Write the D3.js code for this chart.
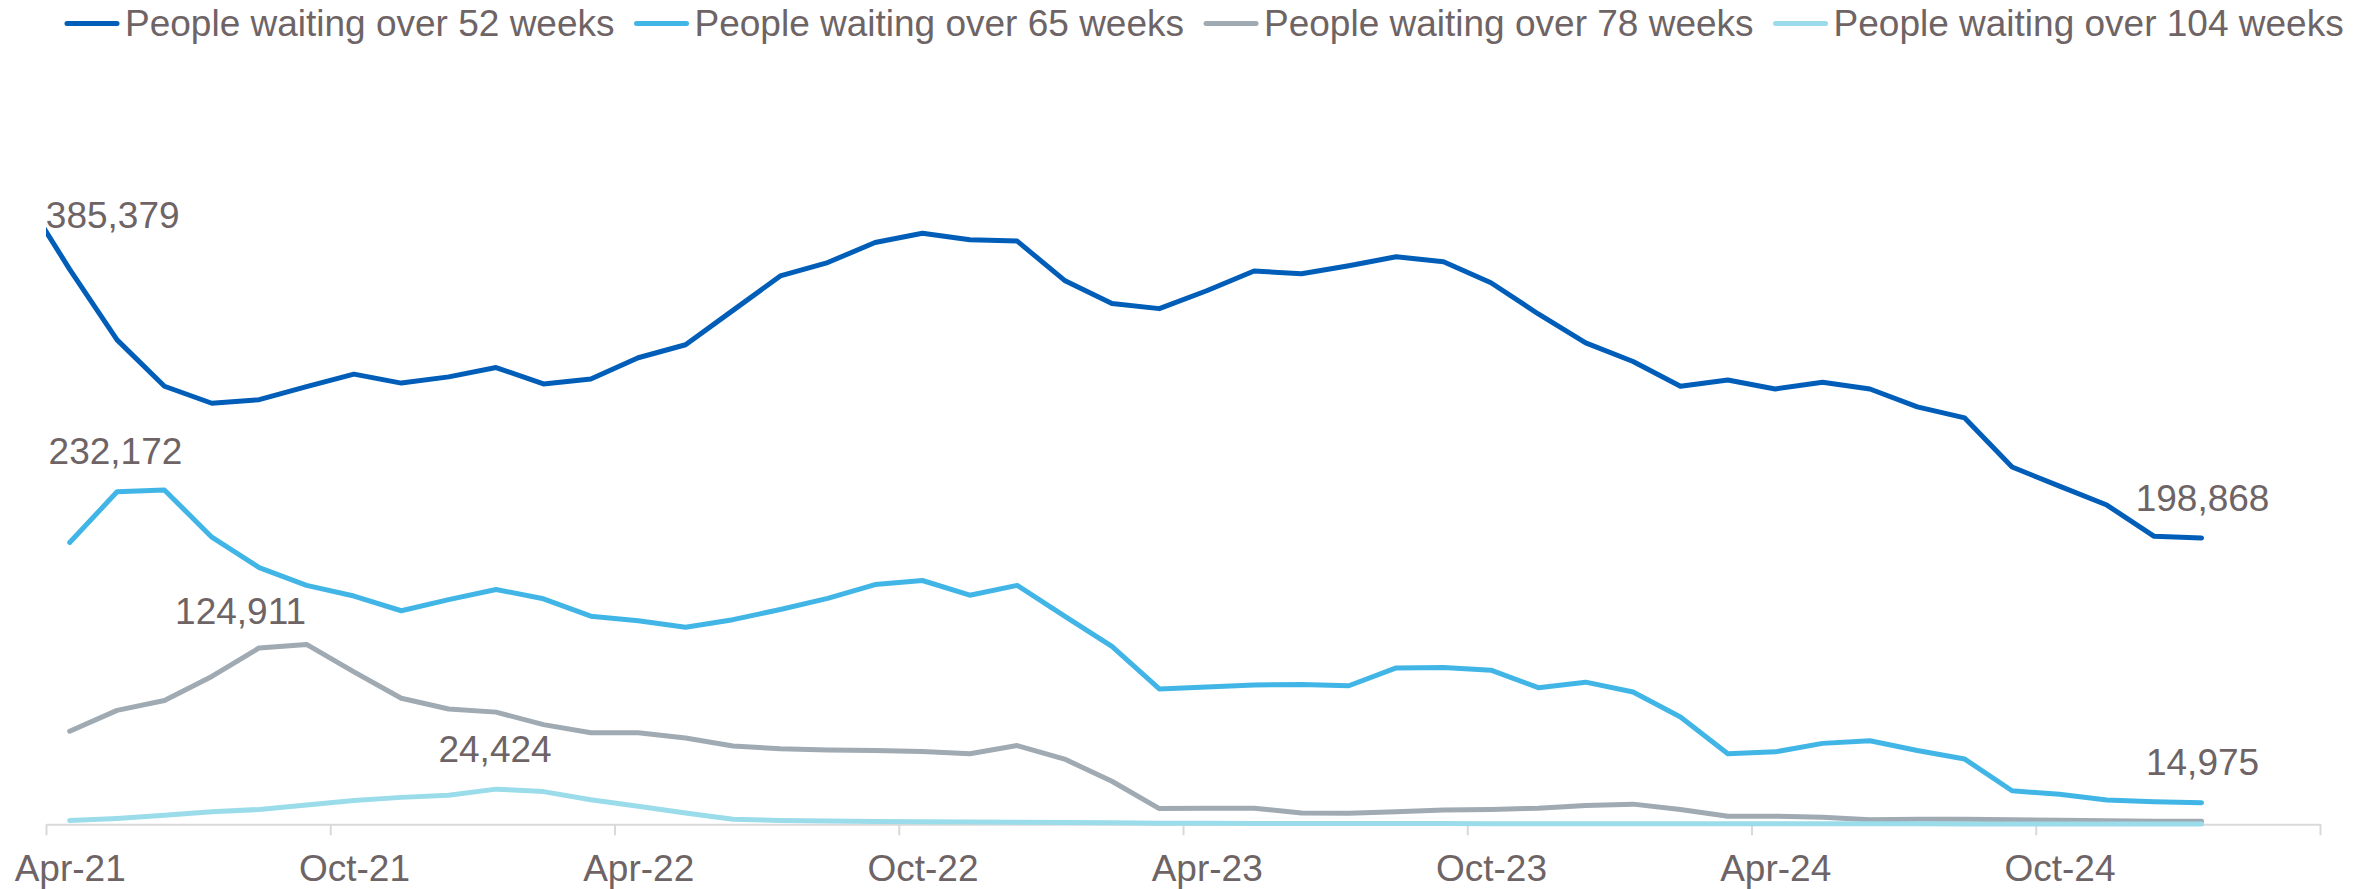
<!DOCTYPE html>
<meta charset="utf-8">

<head>
    <style>
        body { margin: 0; background: #fff; }
        text { font-family: "Liberation Sans", Arial, sans-serif; fill: #6e6466; }
    </style>
    <script src="https://d3js.org/d3.v7.min.js"></script>
</head>

<body>
    <div id="chart"></div>

    <script>
        // months Mar-21 .. Jan-25 (the 52-week series has one extra point before the axis start)
        var months = d3.timeMonth.range(new Date(2021, 2, 1), new Date(2025, 1, 1));

        var over52 = [438000, 385379, 336400, 304200, 292400, 294900, 303900, 312600, 306400, 310700, 317200, 305800,
            309200, 324000, 333000, 356900, 380800, 390100, 404000, 410500, 405900, 405000, 377700, 361600, 358100,
            370500, 384200, 382300, 387900, 394100, 390700, 376100, 354400, 334300, 321400, 304200, 308500, 302300,
            307000, 302300, 289900, 282200, 248100, 234800, 221700, 200000, 198868];
        var over65 = [null, 195700, 230900, 232172, 199400, 178300, 165900, 158500, 148300, 156000, 163100, 156600,
            144500, 141400, 136800, 142100, 149200, 156900, 166500, 169300, 159100, 165900, 144500, 123500, 94000,
            95300, 96800, 97100, 96200, 108600, 108900, 107000, 94900, 98700, 91900, 74500, 49000, 50300, 56200,
            58000, 51200, 45300, 23300, 20800, 16900, 15600, 14975];
        var over78 = [null, 64600, 79100, 86000, 102700, 122500, 124911, 105800, 87500, 80100, 77900, 69200, 63600,
            63600, 59900, 54400, 52500, 51600, 51300, 50600, 49000, 54700, 45300, 29900, 10900, 11200, 11200, 7800,
            7700, 8700, 10000, 10300, 11200, 13100, 14000, 10300, 5600, 5600, 4900, 3200, 3500, 3500, 3200, 2800,
            2500, 2200, 2200];
        var over104 = [null, 2600, 4100, 6300, 8700, 10300, 13400, 16500, 18700, 20200, 24424, 22700, 17100, 12500,
            7800, 3500, 2600, 2300, 2000, 1800, 1600, 1400, 1200, 1000, 800, 700, 600, 600, 500, 500, 500, 400, 400,
            400, 400, 300, 300, 300, 300, 300, 300, 200, 200, 200, 200, 200, 200];

        var seriesNames = ["People waiting over 52 weeks", "People waiting over 65 weeks",
            "People waiting over 78 weeks", "People waiting over 104 weeks"];
        var tickLabels = ["Apr-21", "Oct-21", "Apr-22", "Oct-22", "Apr-23", "Oct-23", "Apr-24", "Oct-24"];

        var colors = ["#005eb8", "#41b6e6", "#a0aab2", "#9bdcea"];
        var allSeries = [over52, over65, over78, over104];

        // which points carry a value label: [series, point index, dx, dy]
        var labelled = [[0, 1, 43, -41], [1, 3, -49, -26], [2, 6, -66, -20], [3, 10, -1, -27],
            [0, 46, 1, -27], [1, 46, 1, -28]];

        var width = 2372, height = 889;

        var svg = d3.select("#chart")
            .append("svg")
            .attr("width", width)
            .attr("height", height);

        // month index 0 = Apr-21, points sit in the middle of their month
        var start = new Date(2021, 3, 1);
        function monthIndex(d) { return d3.timeMonth.count(start, d) + 0.5; }

        var x = d3.scaleLinear().domain([0, 48]).range([46, 2320]);
        var y = d3.scaleLinear().domain([0, 450000]).range([824.3, 176.3]);

        svg.append("defs").append("clipPath").attr("id", "plot")
            .append("rect").attr("x", x(0)).attr("y", 0).attr("width", width - x(0)).attr("height", height);

        // axis line + boundary ticks
        var axisTicks = svg.append("g")
            .attr("transform", "translate(0," + y(0) + ")")
            .call(d3.axisBottom(x).tickValues(d3.range(0, 49, 6)).tickFormat("").tickSize(11).tickSizeOuter(0));
        axisTicks.select(".domain").attr("stroke", "#d9d9d9").attr("stroke-width", 2);
        axisTicks.selectAll(".tick line").attr("stroke", "#d9d9d9").attr("stroke-width", 2);

        // category labels centred on their month
        var axisLabels = svg.append("g")
            .attr("transform", "translate(0," + y(0) + ")")
            .call(d3.axisBottom(x).tickValues(d3.range(0.5, 48, 6)).tickFormat((d, i) => tickLabels[i]).tickSize(0).tickPadding(30));
        axisLabels.select(".domain").remove();
        axisLabels.selectAll("text").attr("font-size", 37).attr("fill", "#6e6466")
            .attr("font-family", "'Liberation Sans', Arial, sans-serif");

        var line = d3.line()
            .defined(d => d.v !== null)
            .x(d => x(monthIndex(d.date)))
            .y(d => y(d.v));

        var lines = svg.append("g").attr("clip-path", "url(#plot)");
        allSeries.forEach(function (s, i) {
            lines.append("path")
                .datum(s.map((v, j) => ({ date: months[j], v: v })))
                .attr("fill", "none")
                .attr("stroke", colors[i])
                .attr("stroke-width", 5)
                .attr("stroke-linejoin", "round")
                .attr("stroke-linecap", "round")
                .attr("d", line);
        });

        // value labels
        svg.selectAll(".vlabel")
            .data(labelled)
            .enter()
            .append("text")
            .attr("class", "vlabel")
            .attr("x", d => x(monthIndex(months[d[1]])) + d[2])
            .attr("y", d => y(allSeries[d[0]][d[1]]) + d[3])
            .attr("text-anchor", "middle")
            .attr("font-size", 37)
            .text(d => d3.format(",")(allSeries[d[0]][d[1]]));

        // legend
        var legend = svg.append("g").attr("transform", "translate(65,0)");
        var lx = 0;
        seriesNames.forEach(function (name, i) {
            var item = legend.append("g").attr("transform", "translate(" + lx + ",0)");
            item.append("line")
                .attr("x1", 2).attr("x2", 52).attr("y1", 23.5).attr("y2", 23.5)
                .attr("stroke", colors[i]).attr("stroke-width", 5).attr("stroke-linecap", "round");
            var t = item.append("text")
                .attr("x", 60).attr("y", 36)
                .attr("font-size", 37)
                .text(name);
            lx += 60 + t.node().getComputedTextLength() + 20;
        });
    </script>
</body>
